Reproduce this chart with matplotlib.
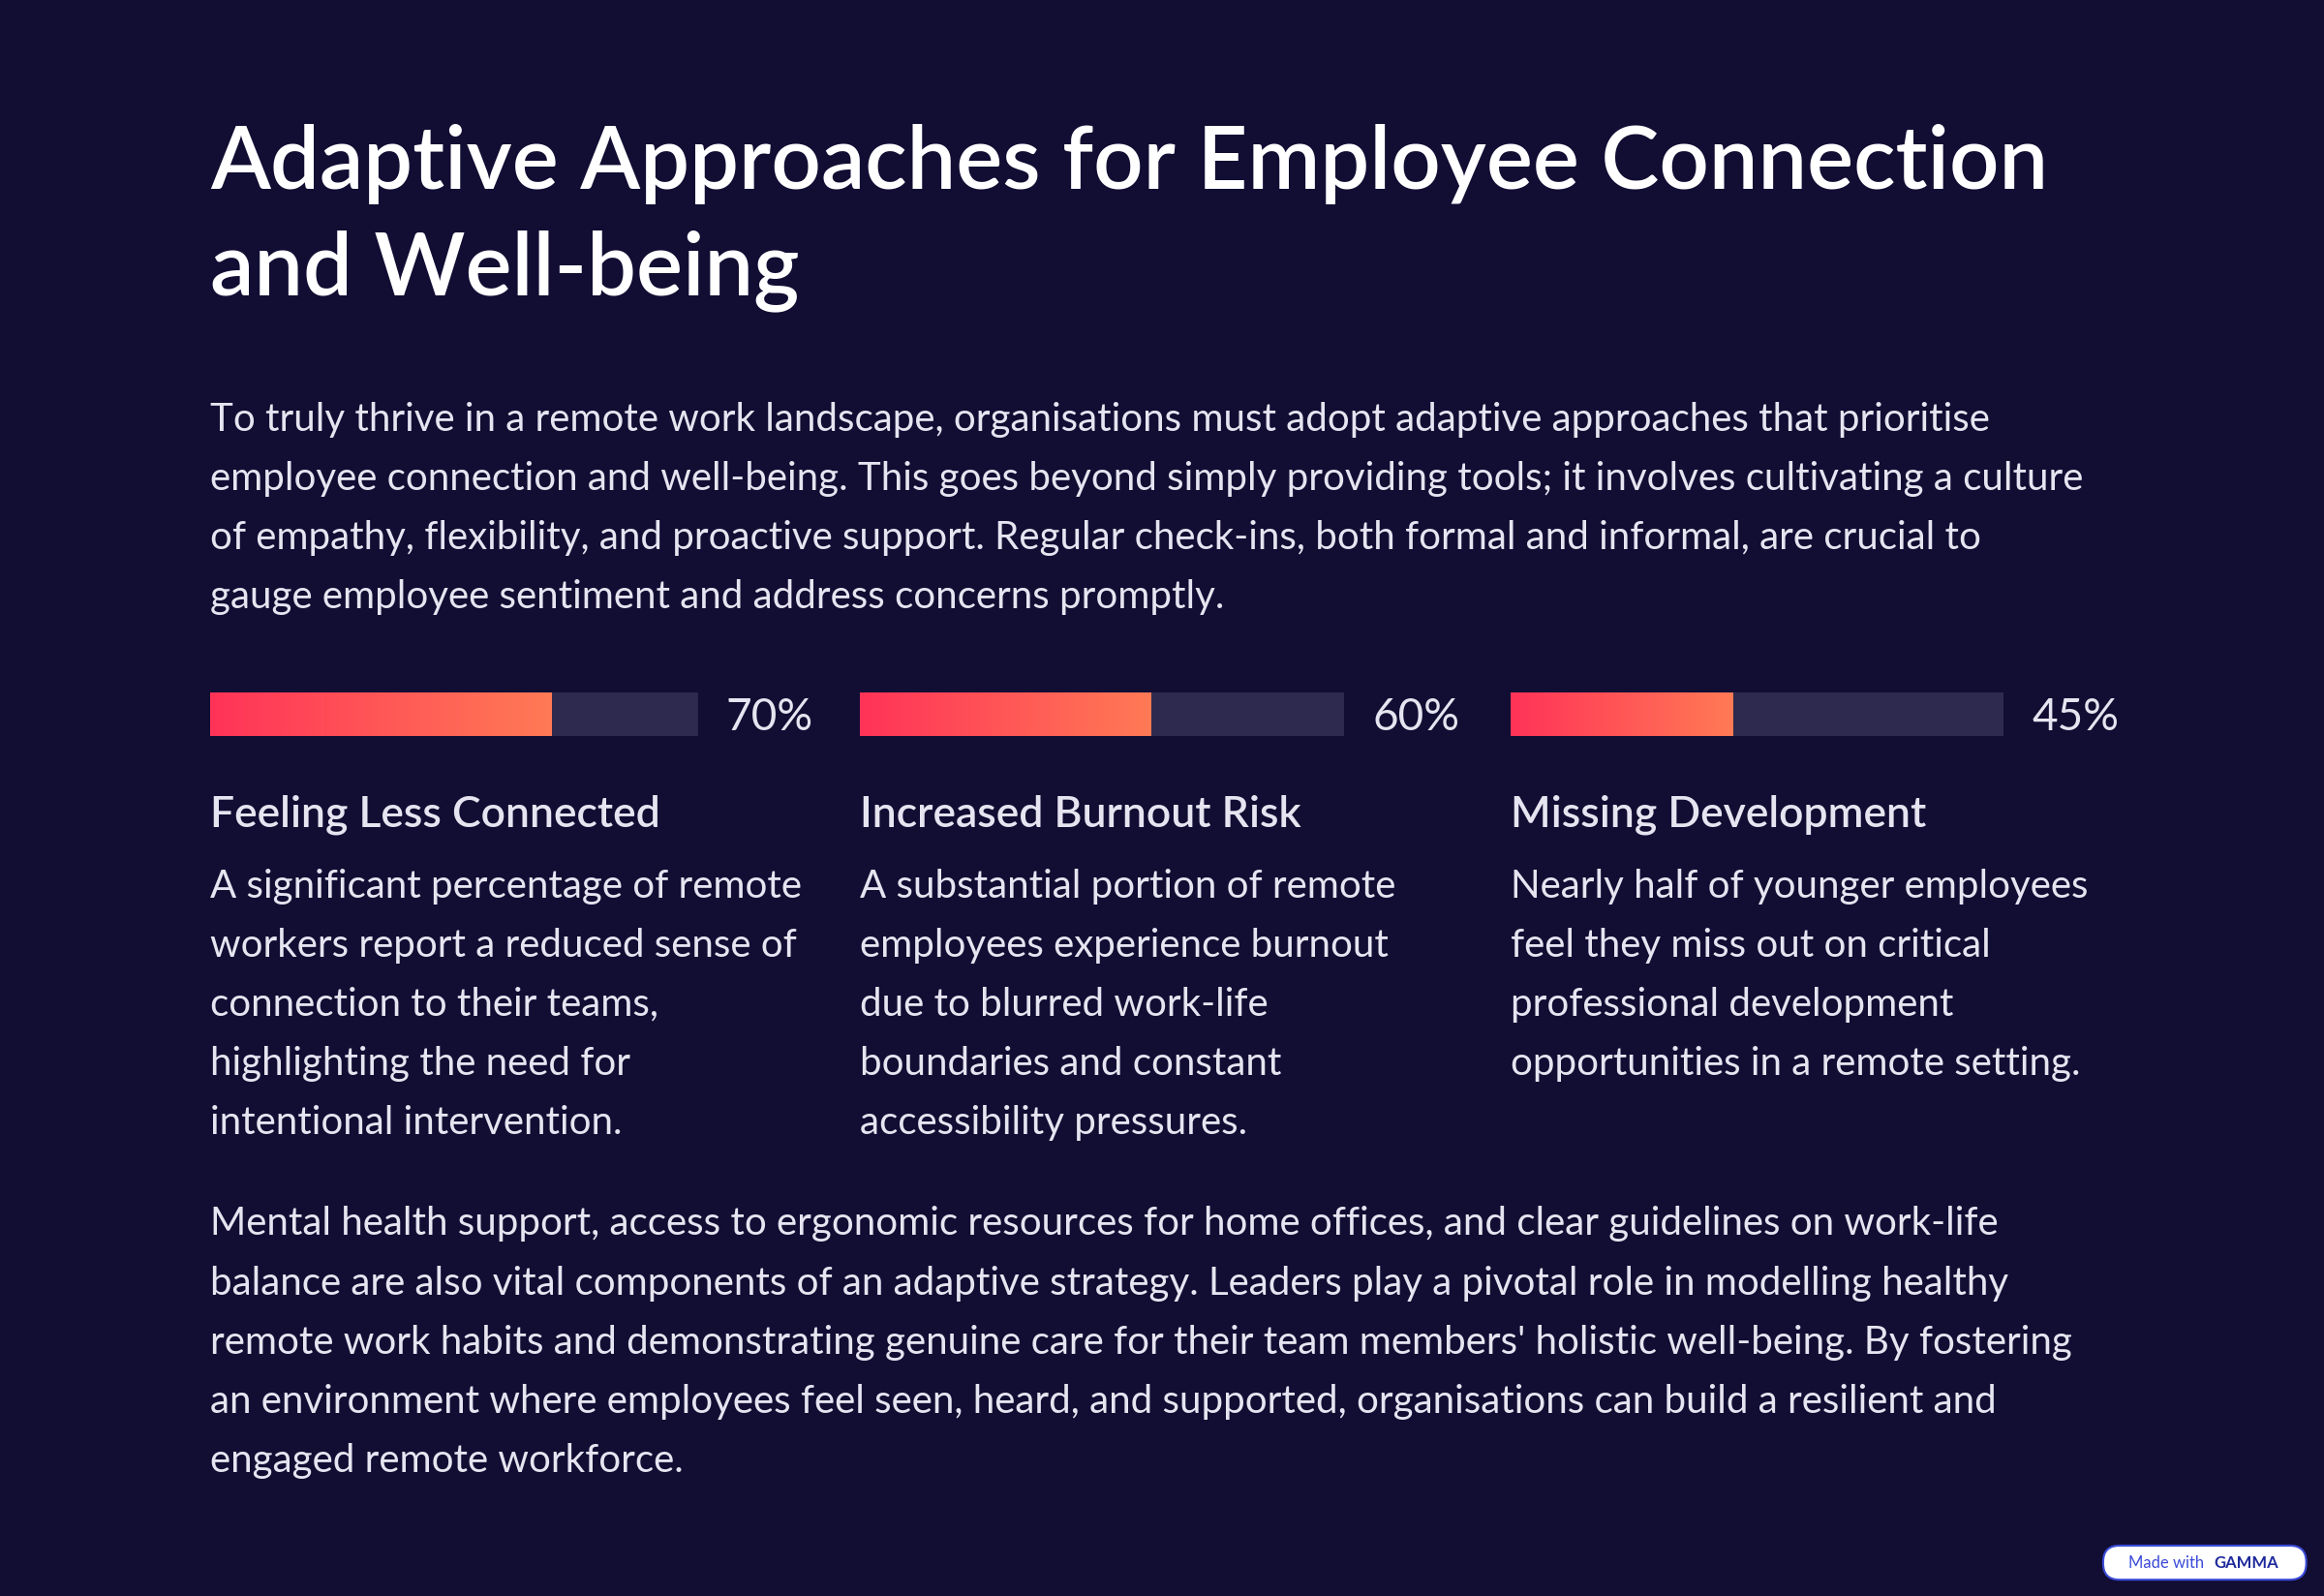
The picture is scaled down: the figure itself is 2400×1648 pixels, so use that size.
import matplotlib
matplotlib.use("Agg")
import matplotlib.pyplot as plt
import numpy as np
from matplotlib.patches import FancyBboxPatch
from matplotlib.colors import LinearSegmentedColormap

BG = "#110D33"
TRACK = "#2E2A4F"
TXT = "#E6E4F0"

title_lines = ["Adaptive Approaches for Employee Connection", "and Well-being"]
intro_lines = [
    "To truly thrive in a remote work landscape, organisations must adopt adaptive approaches that prioritise",
    "employee connection and well-being. This goes beyond simply providing tools; it involves cultivating a culture",
    "of empathy, flexibility, and proactive support. Regular check-ins, both formal and informal, are crucial to",
    "gauge employee sentiment and address concerns promptly.",
]
values = [70, 60, 45]
labels = ["70%", "60%", "45%"]
headings = ["Feeling Less Connected", "Increased Burnout Risk", "Missing Development"]
card_texts = [
    ["A significant percentage of remote", "workers report a reduced sense of", "connection to their teams,",
     "highlighting the need for", "intentional intervention."],
    ["A substantial portion of remote", "employees experience burnout", "due to blurred work-life",
     "boundaries and constant", "accessibility pressures."],
    ["Nearly half of younger employees", "feel they miss out on critical", "professional development",
     "opportunities in a remote setting."],
]
outro_lines = [
    "Mental health support, access to ergonomic resources for home offices, and clear guidelines on work-life",
    "balance are also vital components of an adaptive strategy. Leaders play a pivotal role in modelling healthy",
    "remote work habits and demonstrating genuine care for their team members' holistic well-being. By fostering",
    "an environment where employees feel seen, heard, and supported, organisations can build a resilient and",
    "engaged remote workforce.",
]

W, H = 1568, 1077
fig = plt.figure(figsize=(24, 16.48), dpi=100, facecolor=BG)

def fx(x): return x / W
def fy(y): return 1 - y / H

FONT = "Lato"
for i, t in enumerate(title_lines):
    fig.text(fx(142), fy(111 + 72 * i), t, color="white", fontsize=65, fontfamily=FONT,
             fontweight="semibold", va="center", ha="left")
for i, t in enumerate(intro_lines):
    fig.text(fx(142), fy(283 + 40 * i), t, color=TXT, fontsize=29, fontfamily=FONT, va="center", ha="left")

cmap = LinearSegmentedColormap.from_list("g", ["#FF3358", "#FF7A55"])
tracks = [(142, 471), (580, 907), (1019, 1352)]
for (x0, x1), v, lab, hd, lines in zip(tracks, values, labels, headings, card_texts):
    ax = fig.add_axes([fx(x0), fy(497), fx(x1) - fx(x0), (497 - 467) / H])
    ax.set_xlim(0, 100); ax.set_ylim(0, 1); ax.axis("off")
    ax.add_patch(FancyBboxPatch((0, 0), 100, 1, boxstyle="round,pad=0,rounding_size=0.3",
                                mutation_aspect=1 / 12, fc=TRACK, ec="none"))
    grad = np.linspace(0, 1, 256).reshape(1, -1)
    ax.imshow(grad, cmap=cmap, extent=(0, v, 0, 1), aspect="auto", zorder=2)
    fig.text(fx(x1 + 19), fy(484), lab, color=TXT, fontsize=33, fontfamily=FONT, va="center", ha="left")
    fig.text(fx(x0), fy(550), hd, color=TXT, fontsize=32, fontfamily=FONT, fontweight="semibold",
             va="center", ha="left")
    for j, t in enumerate(lines):
        fig.text(fx(x0), fy(598 + 40 * j), t, color=TXT, fontsize=29, fontfamily=FONT, va="center", ha="left")

for i, t in enumerate(outro_lines):
    fig.text(fx(142), fy(826 + 40 * i), t, color=TXT, fontsize=29, fontfamily=FONT, va="center", ha="left")

bx = fig.add_axes([fx(1418), fy(1067), fx(1557) - fx(1418), (1067 - 1042) / H])
bx.set_xlim(0, 139); bx.set_ylim(0, 25); bx.axis("off")
bx.add_patch(FancyBboxPatch((1, 1), 137, 23, boxstyle="round,pad=0,rounding_size=11",
                            fc="white", ec="#3B4BD8", lw=1.5, clip_on=False))
bx.text(18, 12.5, "Made with", color="#3B4BD8", fontsize=12, fontfamily=FONT, va="center", ha="left")
bx.text(76, 12.5, "GAMMA", color="#1E2A9C", fontsize=12, fontfamily=FONT, fontweight="bold",
        va="center", ha="left")

fig.savefig("out.png", dpi=100, facecolor=BG)
